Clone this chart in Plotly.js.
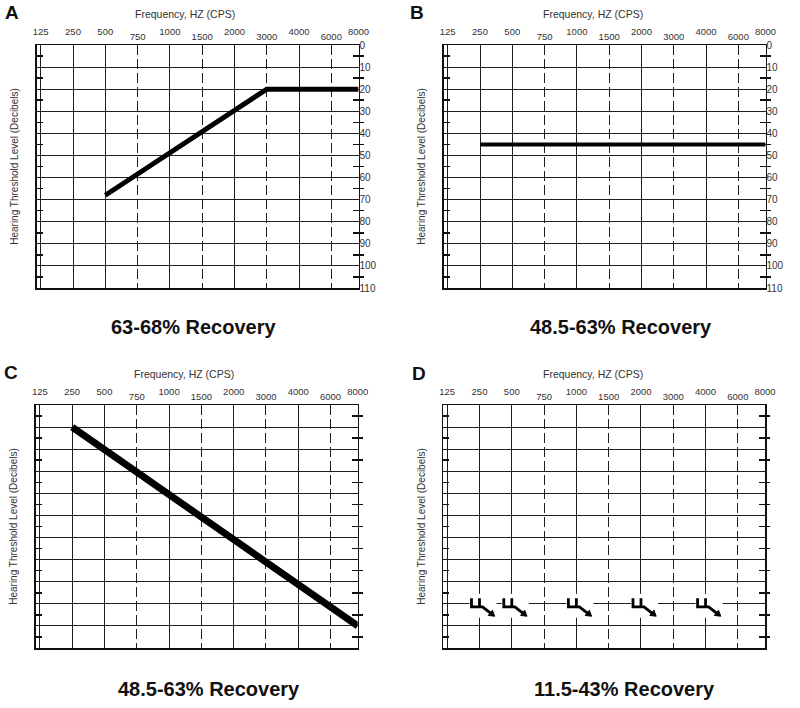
<!DOCTYPE html>
<html>
<head>
<meta charset="utf-8">
<script src="https://cdn.plot.ly/plotly-3.0.1.min.js"></script>
<style>html,body{margin:0;padding:0;background:#fff;}#chart{width:800px;height:708px;}</style>
</head>
<body>
<div id="chart"></div>
<script>
// ---------------- data ----------------
const FREQ_LABELS = ['125','250','500','750','1000','1500','2000','3000','4000','6000','8000'];
const OCTAVE_TICKS = ['125','250','500','1000','2000','4000','8000'];
const MID_TICKS = ['750','1500','3000','6000'];

const aFreq = [500, 3000, 8000];
const aDb   = [68, 20, 20];
const bFreq = [250, 8000];
const bDb   = [45, 45];
const cFreq = [250, 8000];
const cDb   = [10, 100];
const dFreq = [250, 500, 1000, 2000, 4000];
const dDb   = [90, 90, 90, 90, 90];

const panelLetters = ['A', 'B', 'C', 'D'];
const captions = ['63-68% Recovery', '48.5-63% Recovery', '48.5-63% Recovery', '11.5-43% Recovery'];
const xTitleText = 'Frequency, HZ (CPS)';
const yTitleText = 'Hearing Threshold Level (Decibels)';

// ---------------- scale ----------------
// audiogram frequency axis: frequencies evenly spaced by list index,
// 125 Hz and 8000 Hz sit on the frame edges
const X_RANGE = [-0.13, 9.84];
function fpos(f) {
  const i = FREQ_LABELS.indexOf(String(f));
  return Math.min(Math.max(i, X_RANGE[0]), X_RANGE[1]);
}

// ---------------- layout ----------------
const FIG_W = 800, FIG_H = 708, PW = 322, PH = 243;
const LINE = '#111', GRID = '#1e1e1e', TXT = '#333';
const FONT = 'Liberation Sans, Arial, Helvetica, sans-serif';

const panels = [
  {x0: 36.5, top: 45,  letter: [11.5, 12.5], xt: [185, 14],  cap: [193, 327], ylabels: true,  f: aFreq, db: aDb, w: 5},
  {x0: 443.5, top: 45, letter: [416.5, 12.5], xt: [593, 14], cap: [621, 327], ylabels: true,  f: bFreq, db: bDb, w: 4},
  {x0: 35.7, top: 405, letter: [10.5, 372.5], xt: [184, 374], cap: [209, 689], ylabels: false, f: cFreq, db: cDb, w: 7},
  {x0: 443, top: 405,  letter: [419, 373],   xt: [593, 374], cap: [624, 689], ylabels: false, f: null, db: null, w: 0}
];

const layout = {
  width: FIG_W, height: FIG_H,
  margin: {l: 0, r: 0, t: 0, b: 0},
  paper_bgcolor: '#fff', plot_bgcolor: 'rgba(0,0,0,0)',
  showlegend: false,
  font: {family: FONT, color: TXT},
  annotations: [], shapes: []
};
const traces = [];
const px = v => v / FIG_W;
const py = v => 1 - v / FIG_H;

panels.forEach((p, k) => {
  const nm = 2 * k + 1, no = 2 * k + 2;
  const xm = nm === 1 ? 'x' : 'x' + nm, xo = 'x' + no;
  const ym = nm === 1 ? 'y' : 'y' + nm, yo = 'y' + no;
  const xkey = n => n === 1 ? 'xaxis' : 'xaxis' + n;
  const ykey = n => n === 1 ? 'yaxis' : 'yaxis' + n;
  const xdom = [px(p.x0), px(p.x0 + PW)];
  const ydom = [py(p.top + PH), py(p.top)];

  layout[xkey(nm)] = {
    domain: xdom, anchor: ym, side: 'top', range: X_RANGE, fixedrange: true,
    tickmode: 'array', tickvals: MID_TICKS.map(fpos), ticktext: MID_TICKS,
    ticks: '', tickfont: {size: 9.5, color: TXT}, ticklabelstandoff: 0,
    showgrid: true, gridcolor: GRID, gridwidth: 1, griddash: '10px,4px',
    zeroline: false, showline: true, mirror: true, linecolor: LINE, linewidth: 1.5
  };
  layout[xkey(no)] = {
    overlaying: xm, anchor: ym, side: 'top', range: X_RANGE, fixedrange: true,
    tickmode: 'array', tickvals: OCTAVE_TICKS.map(fpos), ticktext: OCTAVE_TICKS,
    ticks: '', tickfont: {size: 9.5, color: TXT}, ticklabelstandoff: 7,
    showgrid: true, gridcolor: GRID, gridwidth: 1,
    zeroline: false, showline: false
  };
  layout[ykey(nm)] = {
    domain: ydom, anchor: xm, side: 'left', range: [110, 0], fixedrange: true,
    tickmode: 'linear', tick0: 0, dtick: 10, ticks: '', showticklabels: false,
    showgrid: true, gridcolor: GRID, gridwidth: 1, zeroline: false,
    showline: true, mirror: 'ticks', linecolor: LINE, linewidth: 1.5,
    minor: {tick0: 5, dtick: 10, ticks: 'inside', ticklen: 6, tickwidth: 1.5, tickcolor: LINE, showgrid: false},
    title: {text: yTitleText, font: {size: 10, color: TXT}, standoff: 14}
  };
  layout[ykey(no)] = {
    overlaying: ym, anchor: xm, side: 'right', range: [110, 0], fixedrange: true,
    tickmode: 'linear', tick0: 0, dtick: 10, ticks: '', showticklabels: p.ylabels,
    tickfont: {size: 10, color: TXT}, ticklabelstandoff: 0,
    showgrid: false, zeroline: false, showline: false,
    minor: {tick0: 5, dtick: 10, ticks: 'outside', ticklen: 4, tickwidth: 1.5, tickcolor: LINE, showgrid: false}
  };

  // overlay helpers (no visible data)
  traces.push({type: 'scatter', x: [], y: [], xaxis: xo, yaxis: ym, hoverinfo: 'skip'});
  traces.push({type: 'scatter', x: [], y: [], xaxis: xm, yaxis: yo, hoverinfo: 'skip'});

  if (p.f) {
    traces.push({
      type: 'scatter', mode: 'lines', xaxis: xm, yaxis: ym,
      x: p.f.map(fpos), y: p.db,
      line: {color: '#000', width: p.w}, hoverinfo: 'skip'
    });
  }

  layout.annotations.push(
    {text: '<b>' + panelLetters[k] + '</b>', xref: 'paper', yref: 'paper', x: px(p.letter[0]), y: py(p.letter[1]),
     xanchor: 'center', yanchor: 'middle', showarrow: false, font: {size: 19, color: '#111'}},
    {text: xTitleText, xref: 'paper', yref: 'paper', x: px(p.xt[0]), y: py(p.xt[1]),
     xanchor: 'center', yanchor: 'middle', showarrow: false, font: {size: 10.5, color: TXT}},
    {text: '<b>' + captions[k] + '</b>', xref: 'paper', yref: 'paper', x: px(p.cap[0]), y: py(p.cap[1]),
     xanchor: 'center', yanchor: 'middle', showarrow: false, font: {size: 20, color: '#111'}}
  );

  if (k === 3) {
    // "no response" symbols anchored at data points
    dFreq.forEach((f, j) => {
      const base = {xref: xm, yref: ym, xsizemode: 'pixel', ysizemode: 'pixel',
                    xanchor: fpos(f), yanchor: dDb[j], layer: 'above'};
      layout.shapes.push(Object.assign({}, base, {type: 'rect', x0: -10, x1: 17, y0: 10, y1: -14,
        fillcolor: '#fff', line: {width: 0}}));
      layout.shapes.push(Object.assign({}, base, {type: 'path',
        path: 'M-8,5.5 L-8,-3 L4,-3 M0,5.5 L0,-3 M3,-3 L12,-10', line: {color: '#000', width: 2.8}}));
      layout.shapes.push(Object.assign({}, base, {type: 'path',
        path: 'M15.2,-12.4 L12.9,-6.4 L8.8,-11.6 Z', fillcolor: '#000', line: {color: '#000', width: 1}}));
    });
  }
});

Plotly.newPlot('chart', traces, layout, {displayModeBar: false, staticPlot: true});
</script>
</body>
</html>
